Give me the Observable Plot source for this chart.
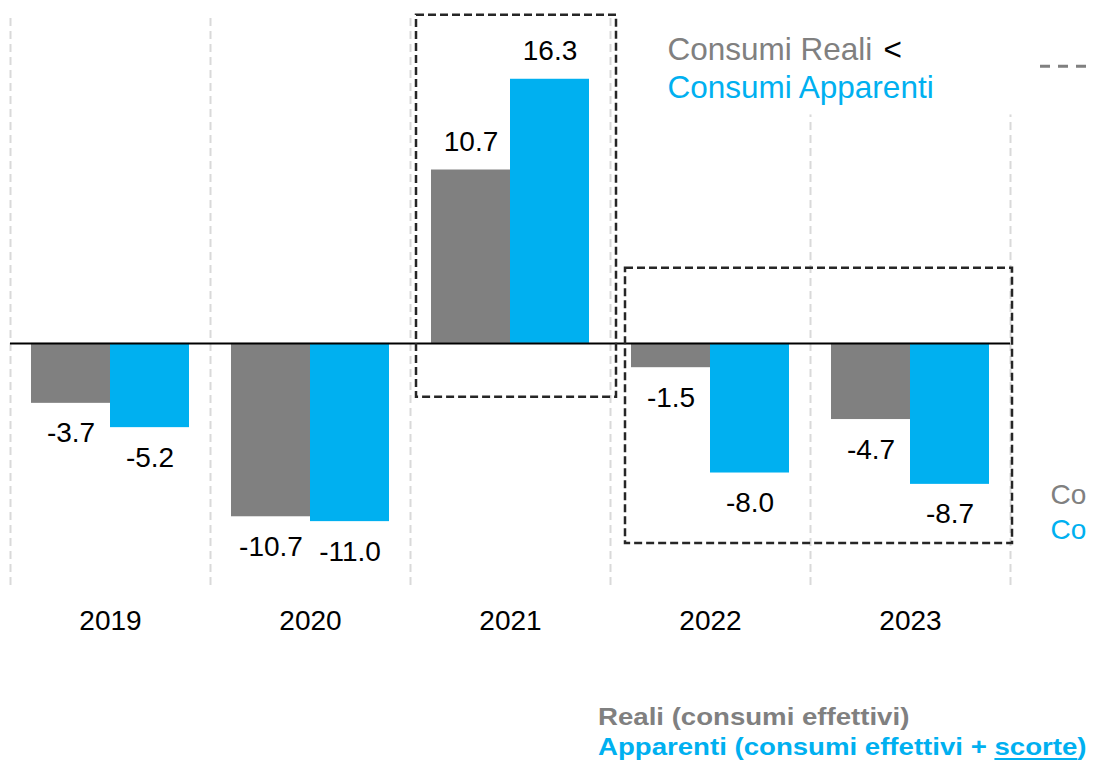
<!DOCTYPE html>
<html>
<head>
<meta charset="utf-8">
<script src="https://cdn.jsdelivr.net/npm/d3@7"></script>
<script src="https://cdn.jsdelivr.net/npm/@observablehq/plot@0.6"></script>
<style>
  html, body { margin: 0; padding: 0; background: #fff; overflow: hidden; }
  #chart svg { display: block; overflow: hidden; }
  #legend {
    margin-top: 12px;
    padding-left: 598px;
    font-family: "Liberation Sans", Arial, sans-serif;
    font-weight: bold;
    font-size: 24px;
    line-height: 30px;
    white-space: nowrap;
  }
  #legend div { transform: scaleX(1.15); transform-origin: 0 0; }
  .reali { color: #808080; }
  .apparenti { color: #00B0F0; }
  .apparenti u { text-decoration-thickness: 2px; text-underline-offset: 3px; }
</style>
</head>
<body>
<div id="chart"></div>
<div id="legend">
  <div class="reali">Reali (consumi effettivi)</div>
  <div class="apparenti">Apparenti (consumi effettivi + <u>scorte</u>)</div>
</div>
<script>
// ---- data ----
const years = [2019, 2020, 2021, 2022, 2023];
const reali = [-3.7, -10.7, 10.7, -1.5, -4.7];
const apparenti = [-5.2, -11.0, 16.3, -8.0, -8.7];
const seriesNames = ["Reali", "Apparenti"];
const seriesColors = ["#808080", "#00B0F0"];

// annotation boxes (highlight years)
const highlightBoxes = [
  {first: 2021, last: 2021, top: 20.25, bottom: -3.33, padL: 0.47, padR: 0.53},
  {first: 2022, last: 2023, top: 4.63, bottom: -12.35, padL: 0.425, padR: 0.51}
];

// ---- layout constants ----
const BW = 0.395; // bar width in band units
const yMin = -15.25, yMax = 20.05;
const font = "Liberation Sans, Arial, sans-serif";

const rows = years.flatMap((year, i) => [
  {i, year, series: "Reali", value: reali[i], side: -1},
  {i, year, series: "Apparenti", value: apparenti[i], side: 1}
]);
const boundaries = years.map((_, i) => i - 0.5).concat([years.length - 0.5]);
const idx = y => years.indexOf(y);
const fmt = v => v.toFixed(1);

const chart = Plot.plot({
  width: 1094,
  height: 690,
  marginTop: 18,
  marginBottom: 100,
  marginLeft: 10,
  marginRight: 84,
  x: {domain: [-0.5, years.length - 0.5], axis: null},
  y: {domain: [yMin, yMax], axis: null},
  color: {domain: seriesNames, range: seriesColors},
  style: {fontFamily: font, fontSize: "28px", background: "white", color: "black"},
  marks: [
    // dashed vertical separators
    Plot.ruleX(boundaries, {x: d => d, stroke: "#d9d9d9", strokeWidth: 2, strokeDasharray: "8,5"}),
    // white backdrop behind the top-right note
    Plot.rect([0], {x1: 3.22, x2: 5.2, y1: 14.1, y2: 21, fill: "white"}),
    // bars
    Plot.rectY(rows, {
      x1: d => d.side < 0 ? d.i - BW : d.i,
      x2: d => d.side < 0 ? d.i : d.i + BW,
      y: "value",
      fill: "series"
    }),
    // zero line
    Plot.ruleY([0], {stroke: "black", strokeWidth: 2}),
    // value labels
    Plot.text(rows.filter(d => d.value >= 0), {
      x: d => d.i + d.side * BW / 2, y: "value", text: d => fmt(d.value),
      dy: -28, fill: "black", fontSize: 28
    }),
    Plot.text(rows.filter(d => d.value < 0), {
      x: d => d.i + d.side * BW / 2, y: "value", text: d => fmt(d.value),
      dy: 30, fill: "black", fontSize: 28
    }),
    // year labels
    Plot.text(years, {
      x: (d, i) => i, text: d => String(d), frameAnchor: "bottom",
      dy: 31, lineAnchor: "middle", fill: "black", fontSize: 28
    }),
    // highlight boxes
    Plot.rect(highlightBoxes, {
      x1: d => idx(d.first) - d.padL,
      x2: d => idx(d.last) + d.padR,
      y1: "bottom", y2: "top",
      fill: "none", stroke: "#262626", strokeWidth: 2.5, strokeDasharray: "8,4"
    }),
    // top note
    Plot.text(["Consumi Reali"], {text: d => d, frameAnchor: "top-left", dx: 657, dy: 31,
      textAnchor: "start", lineAnchor: "middle", fill: "#808080", fontSize: 31.5}),
    Plot.text(["<"], {text: d => d, frameAnchor: "top-left", dx: 873, dy: 31,
      textAnchor: "start", lineAnchor: "middle", fill: "black", fontSize: 31.5}),
    Plot.text(["Consumi Apparenti"], {text: d => d, frameAnchor: "top-left", dx: 657, dy: 69,
      textAnchor: "start", lineAnchor: "middle", fill: "#00B0F0", fontSize: 31.5}),
    // right-side note (only its visible start, as in the reference)
    Plot.text(["Co"], {text: d => d, frameAnchor: "top-left", dx: 1040, dy: 477,
      textAnchor: "start", lineAnchor: "middle", fill: "#808080", fontSize: 28}),
    Plot.text(["Co"], {text: d => d, frameAnchor: "top-left", dx: 1040, dy: 512,
      textAnchor: "start", lineAnchor: "middle", fill: "#00B0F0", fontSize: 28}),
    // dashed legend sample, top right
    Plot.ruleY([17.1], {x1: 4.65, x2: 5.2, stroke: "#808080", strokeWidth: 3, strokeDasharray: "10,8"})
  ]
});
document.getElementById("chart").appendChild(chart);
</script>
</body>
</html>
